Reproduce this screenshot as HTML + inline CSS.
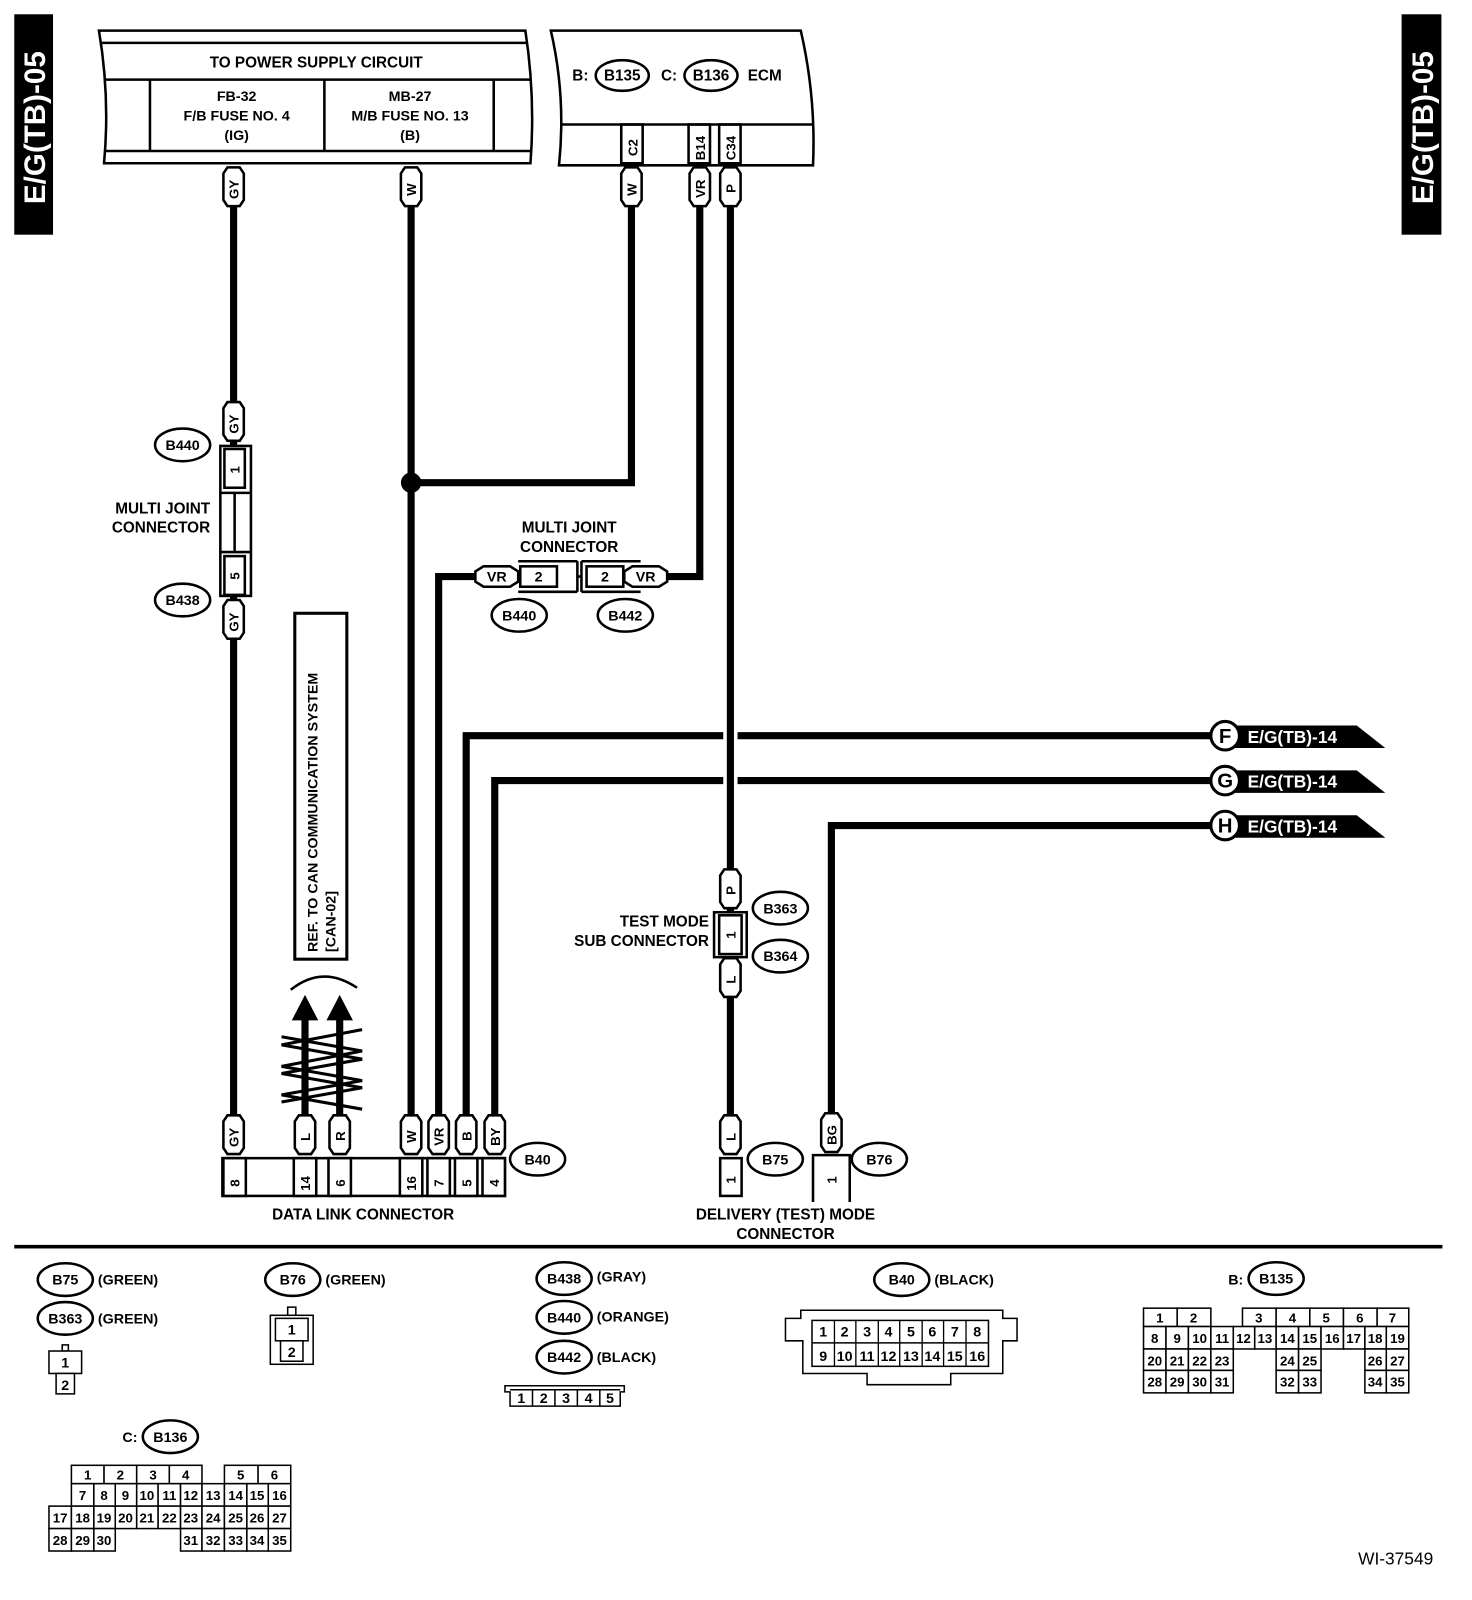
<!DOCTYPE html>
<html><head><meta charset="utf-8"><style>
html,body{margin:0;padding:0;background:#fff}
svg{display:block}
text{font-family:"Liberation Sans",sans-serif;font-weight:bold;fill:#000}
</style></head><body>
<svg width="1472" height="1600" viewBox="0 0 1443 1568" preserveAspectRatio="none" xmlns="http://www.w3.org/2000/svg">
<defs>
<path id="pill" d="M-10,-13 L-6,-19 L6,-19 L10,-13 L10,13 L6,19 L-6,19 L-10,13 Z" fill="#fff" stroke="#000" stroke-width="2.5"/>
</defs>
<rect x="14" y="14" width="38" height="216" fill="#000"/>
<text transform="translate(44,200) rotate(-90)" font-size="29" style="fill:#fff">E/G(TB)-05</text>
<rect x="1374" y="14" width="39" height="216" fill="#000"/>
<text transform="translate(1405,200) rotate(-90)" font-size="29" style="fill:#fff">E/G(TB)-05</text>

<g fill="none" stroke="#000" stroke-width="2.5">
<path d="M97,30 L515,30 Q525,95 520,160 L102,160 Q108,95 97,30 Z" fill="#fff"/>
<line x1="99" y1="42" x2="517" y2="42"/>
<line x1="103" y1="78" x2="520" y2="78"/>
<line x1="103" y1="148" x2="521" y2="148"/>
<line x1="147" y1="78" x2="147" y2="148"/>
<line x1="318" y1="78" x2="318" y2="148"/>
<line x1="484" y1="78" x2="484" y2="148"/>
<path d="M545,30 L785,30 Q800,95 797,162 L548,162 Q555,95 540,30 Z" fill="#fff"/>
<line x1="550" y1="122" x2="797" y2="122"/>
<rect x="609" y="122" width="21" height="38"/>
<rect x="675" y="122" width="21" height="38"/>
<rect x="705" y="122" width="21" height="38"/>
</g>
<text x="310" y="66" font-size="15" text-anchor="middle">TO POWER SUPPLY CIRCUIT</text>
<g font-size="14" text-anchor="middle">
<text x="232" y="99">FB-32</text><text x="232" y="118">F/B FUSE NO. 4</text><text x="232" y="137">(IG)</text>
<text x="402" y="99">MB-27</text><text x="402" y="118">M/B FUSE NO. 13</text><text x="402" y="137">(B)</text>
</g>
<text x="561" y="79" font-size="15">B:</text>
<ellipse cx="610" cy="74" rx="26" ry="15" fill="none" stroke="#000" stroke-width="2.5"/>
<text x="610" y="79" font-size="15" text-anchor="middle">B135</text>
<text x="648" y="79" font-size="15">C:</text>
<ellipse cx="697" cy="74" rx="26" ry="15" fill="none" stroke="#000" stroke-width="2.5"/>
<text x="697" y="79" font-size="15" text-anchor="middle">B136</text>
<text x="733" y="79" font-size="15">ECM</text>
<g font-size="13">
<text transform="translate(625,153) rotate(-90)">C2</text>
<text transform="translate(691,157) rotate(-90)">B14</text>
<text transform="translate(721,157) rotate(-90)">C34</text>
</g>

<g fill="none" stroke="#000" stroke-width="7">
<line x1="229" y1="180" x2="229" y2="1100"/>
<line x1="403" y1="180" x2="403" y2="1100"/>
<polyline points="403,473 619,473 619,180"/>
<polyline points="686,180 686,565 640,565"/>
<polyline points="480,565 430,565 430,1100"/>
<polyline points="457,1100 457,721 1190,721"/>
<polyline points="485,1100 485,765 1190,765"/>
<polyline points="815,1100 815,809 1190,809"/>
</g>
<line x1="716" y1="700" x2="716" y2="790" stroke="#fff" stroke-width="14"/>
<line x1="716" y1="180" x2="716" y2="1100" stroke="#000" stroke-width="7"/>
<circle cx="403" cy="473" r="10" fill="#000"/>

<use href="#pill" x="229" y="183"/><text transform="translate(234,195) rotate(-90)" font-size="13">GY</text>
<use href="#pill" x="403" y="183"/><text transform="translate(408,192) rotate(-90)" font-size="13">W</text>
<use href="#pill" x="619" y="183"/><text transform="translate(624,192) rotate(-90)" font-size="13">W</text>
<use href="#pill" x="686" y="183"/><text transform="translate(691,194) rotate(-90)" font-size="13">VR</text>
<use href="#pill" x="716" y="183"/><text transform="translate(721,189) rotate(-90)" font-size="13">P</text>

<g fill="#fff" stroke="#000" stroke-width="2.5">
<rect x="216" y="437" width="30" height="147"/>
<rect x="220" y="440" width="20" height="38"/>
<rect x="220" y="545" width="20" height="38"/>
<line x1="230" y1="483" x2="230" y2="541"/>
<line x1="216" y1="483" x2="246" y2="483"/>
<line x1="216" y1="541" x2="246" y2="541"/>
</g>
<use href="#pill" x="229" y="413"/><text transform="translate(234,425) rotate(-90)" font-size="13">GY</text>
<use href="#pill" x="229" y="607"/><text transform="translate(234,619) rotate(-90)" font-size="13">GY</text>
<text transform="translate(235,464) rotate(-90)" font-size="13">1</text>
<text transform="translate(235,568) rotate(-90)" font-size="13">5</text>
<g fill="none" stroke="#000" stroke-width="2.5">
<ellipse cx="179" cy="436" rx="27" ry="16"/>
<ellipse cx="179" cy="588" rx="27" ry="16"/>
</g>
<text x="179" y="441" font-size="14" text-anchor="middle">B440</text>
<text x="179" y="593" font-size="14" text-anchor="middle">B438</text>
<text x="206" y="503" font-size="15" text-anchor="end">MULTI JOINT</text>
<text x="206" y="522" font-size="15" text-anchor="end">CONNECTOR</text>

<g fill="#fff" stroke="#000" stroke-width="2.5">
<path d="M474,555 L500,555 L508,560 L508,570 L500,575 L474,575 L466,570 L466,560 Z"/>
<path d="M620,555 L646,555 L654,560 L654,570 L646,575 L620,575 L612,570 L612,560 Z"/>
<rect x="510" y="555" width="36" height="20"/>
<rect x="575" y="555" width="36" height="20"/>
<line x1="508" y1="550" x2="566" y2="550"/><line x1="508" y1="580" x2="566" y2="580"/>
<line x1="566" y1="550" x2="566" y2="580"/>
<line x1="570" y1="550" x2="628" y2="550"/><line x1="570" y1="580" x2="628" y2="580"/>
<line x1="570" y1="550" x2="570" y2="580"/>
<line x1="566" y1="565" x2="570" y2="565"/>
</g>
<g font-size="14" text-anchor="middle">
<text x="487" y="570">VR</text><text x="633" y="570">VR</text>
<text x="528" y="570">2</text><text x="593" y="570">2</text>
<text x="558" y="522" font-size="15">MULTI JOINT</text>
<text x="558" y="541" font-size="15">CONNECTOR</text>
</g>
<g fill="none" stroke="#000" stroke-width="2.5">
<ellipse cx="509" cy="603" rx="27" ry="16"/>
<ellipse cx="613" cy="603" rx="27" ry="16"/>
</g>
<text x="509" y="608" font-size="14" text-anchor="middle">B440</text>
<text x="613" y="608" font-size="14" text-anchor="middle">B442</text>

<rect x="289" y="601" width="51" height="339" fill="none" stroke="#000" stroke-width="3"/>
<text transform="translate(311,933) rotate(-90)" font-size="14">REF. TO CAN COMMUNICATION SYSTEM</text>
<text transform="translate(329,933) rotate(-90)" font-size="14">[CAN-02]</text>

<path d="M285,970 Q316,945 350,968" fill="none" stroke="#000" stroke-width="2.5"/>
<g stroke="#000" stroke-width="7"><line x1="299" y1="995" x2="299" y2="1100"/><line x1="333" y1="995" x2="333" y2="1100"/></g>
<polygon points="299,975 286,1000 312,1000" fill="#000"/>
<polygon points="333,975 320,1000 346,1000" fill="#000"/>
<polyline points="355,1009 276,1024 355,1038 276,1052 355,1066 276,1080" fill="none" stroke="#000" stroke-width="3"/>
<polyline points="276,1016 355,1030 276,1045 355,1059 276,1073 355,1087" fill="none" stroke="#000" stroke-width="3"/>

<g>
<polygon points="1205,711 1330,711 1358,733 1205,733" fill="#000"/>
<polygon points="1205,755 1330,755 1358,777 1205,777" fill="#000"/>
<polygon points="1205,799 1330,799 1358,821 1205,821" fill="#000"/>
<g fill="#fff" stroke="#000" stroke-width="3">
<circle cx="1201" cy="721" r="14"/><circle cx="1201" cy="765" r="14"/><circle cx="1201" cy="809" r="14"/>
</g>
<g font-size="20" text-anchor="middle"><text x="1201" y="728">F</text><text x="1201" y="772">G</text><text x="1201" y="816">H</text></g>
<g font-size="17"><text x="1223" y="728" style="fill:#fff">E/G(TB)-14</text><text x="1223" y="772" style="fill:#fff">E/G(TB)-14</text><text x="1223" y="816" style="fill:#fff">E/G(TB)-14</text></g>
</g>

<g fill="#fff" stroke="#000" stroke-width="2.5">
<rect x="700" y="894" width="32" height="44"/>
<rect x="705" y="897" width="22" height="38"/>
</g>
<use href="#pill" x="716" y="871"/><text transform="translate(721,877) rotate(-90)" font-size="13">P</text>
<use href="#pill" x="716" y="958"/><text transform="translate(721,964) rotate(-90)" font-size="13">L</text>
<text transform="translate(721,920) rotate(-90)" font-size="13">1</text>
<g fill="none" stroke="#000" stroke-width="2.5">
<ellipse cx="765" cy="890" rx="27" ry="16"/><ellipse cx="765" cy="937" rx="27" ry="16"/>
</g>
<text x="765" y="895" font-size="14" text-anchor="middle">B363</text>
<text x="765" y="942" font-size="14" text-anchor="middle">B364</text>
<text x="695" y="908" font-size="15" text-anchor="end">TEST MODE</text>
<text x="695" y="927" font-size="15" text-anchor="end">SUB CONNECTOR</text>

<g fill="#fff" stroke="#000" stroke-width="2.5">
<rect x="218" y="1135" width="277" height="37"/>
<rect x="219" y="1135" width="22" height="37"/>
<rect x="288" y="1135" width="22" height="37"/>
<rect x="322" y="1135" width="22" height="37"/>
<rect x="392" y="1135" width="22" height="37"/>
<rect x="419" y="1135" width="22" height="37"/>
<rect x="446" y="1135" width="22" height="37"/>
<rect x="473" y="1135" width="22" height="37"/>
</g>
<g font-size="13">
<text transform="translate(235,1163) rotate(-90)">8</text>
<text transform="translate(304,1167) rotate(-90)">14</text>
<text transform="translate(338,1163) rotate(-90)">6</text>
<text transform="translate(408,1167) rotate(-90)">16</text>
<text transform="translate(435,1163) rotate(-90)">7</text>
<text transform="translate(462,1163) rotate(-90)">5</text>
<text transform="translate(489,1163) rotate(-90)">4</text>
</g>
<use href="#pill" x="229" y="1112"/><text transform="translate(234,1124) rotate(-90)" font-size="13">GY</text>
<use href="#pill" x="299" y="1112"/><text transform="translate(304,1118) rotate(-90)" font-size="13">L</text>
<use href="#pill" x="333" y="1112"/><text transform="translate(338,1118) rotate(-90)" font-size="13">R</text>
<use href="#pill" x="403" y="1112"/><text transform="translate(408,1120) rotate(-90)" font-size="13">W</text>
<use href="#pill" x="430" y="1112"/><text transform="translate(435,1123) rotate(-90)" font-size="13">VR</text>
<use href="#pill" x="457" y="1112"/><text transform="translate(462,1118) rotate(-90)" font-size="13">B</text>
<use href="#pill" x="485" y="1112"/><text transform="translate(490,1123) rotate(-90)" font-size="13">BY</text>
<ellipse cx="527" cy="1136" rx="27" ry="16" fill="none" stroke="#000" stroke-width="2.5"/>
<text x="527" y="1141" font-size="14" text-anchor="middle">B40</text>
<text x="356" y="1195" font-size="15" text-anchor="middle">DATA LINK CONNECTOR</text>

<rect x="706" y="1135" width="21" height="37" fill="#fff" stroke="#000" stroke-width="2.5"/>
<text transform="translate(721,1160) rotate(-90)" font-size="13">1</text>
<use href="#pill" x="716" y="1112"/><text transform="translate(721,1118) rotate(-90)" font-size="13">L</text>
<path d="M797,1178 L797,1132 L833,1132 L833,1178" fill="#fff" stroke="#000" stroke-width="2.5"/>
<text transform="translate(820,1160) rotate(-90)" font-size="13">1</text>
<use href="#pill" x="815" y="1110"/><text transform="translate(820,1122) rotate(-90)" font-size="13">BG</text>
<g fill="none" stroke="#000" stroke-width="2.5">
<ellipse cx="760" cy="1136" rx="27" ry="16"/><ellipse cx="862" cy="1136" rx="27" ry="16"/>
</g>
<text x="760" y="1141" font-size="14" text-anchor="middle">B75</text>
<text x="862" y="1141" font-size="14" text-anchor="middle">B76</text>
<text x="770" y="1195" font-size="15" text-anchor="middle">DELIVERY (TEST) MODE</text>
<text x="770" y="1214" font-size="15" text-anchor="middle">CONNECTOR</text>

<rect x="14" y="1220" width="1400" height="3.5" fill="#000"/>

<g fill="none" stroke="#000" stroke-width="2.5">
<ellipse cx="64" cy="1254" rx="27" ry="16"/><ellipse cx="64" cy="1292" rx="27" ry="16"/>
<ellipse cx="287" cy="1254" rx="27" ry="16"/>
<ellipse cx="553" cy="1253" rx="27" ry="16"/><ellipse cx="553" cy="1291" rx="27" ry="16"/><ellipse cx="553" cy="1330" rx="27" ry="16"/>
<ellipse cx="884" cy="1254" rx="27" ry="16"/>
<ellipse cx="1251" cy="1253" rx="27" ry="16"/>
<ellipse cx="167" cy="1408" rx="27" ry="16"/>
</g>
<g font-size="14">
<text x="64" y="1259" text-anchor="middle">B75</text><text x="96" y="1259">(GREEN)</text>
<text x="64" y="1297" text-anchor="middle">B363</text><text x="96" y="1297">(GREEN)</text>
<text x="287" y="1259" text-anchor="middle">B76</text><text x="319" y="1259">(GREEN)</text>
<text x="553" y="1258" text-anchor="middle">B438</text><text x="585" y="1256">(GRAY)</text>
<text x="553" y="1296" text-anchor="middle">B440</text><text x="585" y="1295">(ORANGE)</text>
<text x="553" y="1335" text-anchor="middle">B442</text><text x="585" y="1335">(BLACK)</text>
<text x="884" y="1259" text-anchor="middle">B40</text><text x="916" y="1259">(BLACK)</text>
<text x="1204" y="1259">B:</text><text x="1251" y="1258" text-anchor="middle">B135</text>
<text x="120" y="1413">C:</text><text x="167" y="1413" text-anchor="middle">B136</text>
</g>
<g fill="#fff" stroke="#000" stroke-width="1.5">
<rect x="61" y="1318" width="6" height="6"/><rect x="48" y="1324" width="32" height="22"/><rect x="55" y="1346" width="18" height="20"/>
<rect x="282" y="1281" width="8" height="8"/><rect x="265" y="1289" width="42" height="48"/><rect x="270" y="1292" width="32" height="22"/><rect x="275" y="1314" width="22" height="20"/>
<path d="M495,1358 L612,1358 L612,1364 L608,1364 L608,1378 L500,1378 L500,1364 L495,1364 Z"/>
<line x1="500" y1="1362" x2="608" y2="1362"/>
<path d="M785,1284 L983,1284 L983,1292 L997,1292 L997,1314 L983,1314 L983,1346 L932,1346 L932,1357 L850,1357 L850,1346 L787,1346 L787,1314 L770,1314 L770,1292 L785,1292 Z"/>
<rect x="796" y="1294" width="173" height="45"/>
<line x1="796" y1="1316" x2="969" y2="1316"/>
</g>
<g stroke="#000" stroke-width="1.5">
<line x1="522" y1="1362" x2="522" y2="1378"/><line x1="544" y1="1362" x2="544" y2="1378"/><line x1="566" y1="1362" x2="566" y2="1378"/><line x1="588" y1="1362" x2="588" y2="1378"/>
</g>
<g font-size="14" text-anchor="middle" style="font-weight:normal">
<text x="64" y="1340">1</text><text x="64" y="1362">2</text>
<text x="286" y="1308">1</text><text x="286" y="1330">2</text>
<text x="511" y="1375">1</text><text x="533" y="1375">2</text><text x="555" y="1375">3</text><text x="577" y="1375">4</text><text x="598" y="1375">5</text>
</g>
<g stroke="#000" stroke-width="1.3">
<line x1="818" y1="1294" x2="818" y2="1339"/><line x1="839" y1="1294" x2="839" y2="1339"/><line x1="861" y1="1294" x2="861" y2="1339"/><line x1="882" y1="1294" x2="882" y2="1339"/><line x1="904" y1="1294" x2="904" y2="1339"/><line x1="925" y1="1294" x2="925" y2="1339"/><line x1="947" y1="1294" x2="947" y2="1339"/>
</g>
<g font-size="14" text-anchor="middle" style="font-weight:normal">
<text x="807" y="1310">1</text><text x="828" y="1310">2</text><text x="850" y="1310">3</text><text x="871" y="1310">4</text><text x="893" y="1310">5</text><text x="914" y="1310">6</text><text x="936" y="1310">7</text><text x="958" y="1310">8</text>
<text x="807" y="1334">9</text><text x="828" y="1334">10</text><text x="850" y="1334">11</text><text x="871" y="1334">12</text><text x="893" y="1334">13</text><text x="914" y="1334">14</text><text x="936" y="1334">15</text><text x="958" y="1334">16</text>
</g>

<g fill="#fff" stroke="#000" stroke-width="1.5">
<rect x="1121" y="1282" width="33" height="18"/><rect x="1154" y="1282" width="33" height="18"/>
<rect x="1218" y="1282" width="33" height="18"/><rect x="1251" y="1282" width="33" height="18"/><rect x="1284" y="1282" width="33" height="18"/><rect x="1317" y="1282" width="33" height="18"/><rect x="1350" y="1282" width="31" height="18"/>
<rect x="1121" y="1300" width="22" height="22"/><rect x="1143" y="1300" width="22" height="22"/><rect x="1165" y="1300" width="22" height="22"/><rect x="1187" y="1300" width="22" height="22"/><rect x="1209" y="1300" width="21" height="22"/><rect x="1230" y="1300" width="21" height="22"/><rect x="1251" y="1300" width="22" height="22"/><rect x="1273" y="1300" width="22" height="22"/><rect x="1295" y="1300" width="22" height="22"/><rect x="1317" y="1300" width="21" height="22"/><rect x="1338" y="1300" width="21" height="22"/><rect x="1359" y="1300" width="22" height="22"/>
<rect x="1121" y="1322" width="22" height="21"/><rect x="1143" y="1322" width="22" height="21"/><rect x="1165" y="1322" width="22" height="21"/><rect x="1187" y="1322" width="22" height="21"/>
<rect x="1251" y="1322" width="22" height="21"/><rect x="1273" y="1322" width="22" height="21"/>
<rect x="1338" y="1322" width="21" height="21"/><rect x="1359" y="1322" width="22" height="21"/>
<rect x="1121" y="1343" width="22" height="22"/><rect x="1143" y="1343" width="22" height="22"/><rect x="1165" y="1343" width="22" height="22"/><rect x="1187" y="1343" width="22" height="22"/>
<rect x="1251" y="1343" width="22" height="22"/><rect x="1273" y="1343" width="22" height="22"/>
<rect x="1338" y="1343" width="21" height="22"/><rect x="1359" y="1343" width="22" height="22"/>
</g>
<g font-size="13" text-anchor="middle" style="font-weight:normal">
<text x="1137" y="1296">1</text><text x="1170" y="1296">2</text><text x="1234" y="1296">3</text><text x="1267" y="1296">4</text><text x="1300" y="1296">5</text><text x="1333" y="1296">6</text><text x="1365" y="1296">7</text>
<text x="1132" y="1316">8</text><text x="1154" y="1316">9</text><text x="1176" y="1316">10</text><text x="1198" y="1316">11</text><text x="1219" y="1316">12</text><text x="1240" y="1316">13</text><text x="1262" y="1316">14</text><text x="1284" y="1316">15</text><text x="1306" y="1316">16</text><text x="1327" y="1316">17</text><text x="1348" y="1316">18</text><text x="1370" y="1316">19</text>
<text x="1132" y="1338">20</text><text x="1154" y="1338">21</text><text x="1176" y="1338">22</text><text x="1198" y="1338">23</text><text x="1262" y="1338">24</text><text x="1284" y="1338">25</text><text x="1348" y="1338">26</text><text x="1370" y="1338">27</text>
<text x="1132" y="1359">28</text><text x="1154" y="1359">29</text><text x="1176" y="1359">30</text><text x="1198" y="1359">31</text><text x="1262" y="1359">32</text><text x="1284" y="1359">33</text><text x="1348" y="1359">34</text><text x="1370" y="1359">35</text>
</g>

<g fill="#fff" stroke="#000" stroke-width="1.5">
<rect x="70" y="1436" width="32" height="18"/><rect x="102" y="1436" width="32" height="18"/><rect x="134" y="1436" width="32" height="18"/><rect x="166" y="1436" width="32" height="18"/>
<rect x="220" y="1436" width="33" height="18"/><rect x="253" y="1436" width="32" height="18"/>
<rect x="70" y="1454" width="22" height="22"/><rect x="92" y="1454" width="21" height="22"/><rect x="113" y="1454" width="21" height="22"/><rect x="134" y="1454" width="21" height="22"/><rect x="155" y="1454" width="22" height="22"/><rect x="177" y="1454" width="21" height="22"/><rect x="198" y="1454" width="22" height="22"/><rect x="220" y="1454" width="22" height="22"/><rect x="242" y="1454" width="21" height="22"/><rect x="263" y="1454" width="22" height="22"/>
<rect x="48" y="1476" width="22" height="22"/><rect x="70" y="1476" width="22" height="22"/><rect x="92" y="1476" width="21" height="22"/><rect x="113" y="1476" width="21" height="22"/><rect x="134" y="1476" width="21" height="22"/><rect x="155" y="1476" width="22" height="22"/><rect x="177" y="1476" width="21" height="22"/><rect x="198" y="1476" width="22" height="22"/><rect x="220" y="1476" width="22" height="22"/><rect x="242" y="1476" width="21" height="22"/><rect x="263" y="1476" width="22" height="22"/>
<rect x="48" y="1498" width="22" height="22"/><rect x="70" y="1498" width="22" height="22"/><rect x="92" y="1498" width="21" height="22"/>
<rect x="177" y="1498" width="21" height="22"/><rect x="198" y="1498" width="22" height="22"/><rect x="220" y="1498" width="22" height="22"/><rect x="242" y="1498" width="21" height="22"/><rect x="263" y="1498" width="22" height="22"/>
</g>
<g font-size="13" text-anchor="middle" style="font-weight:normal">
<text x="86" y="1450">1</text><text x="118" y="1450">2</text><text x="150" y="1450">3</text><text x="182" y="1450">4</text><text x="236" y="1450">5</text><text x="269" y="1450">6</text>
<text x="81" y="1470">7</text><text x="102" y="1470">8</text><text x="123" y="1470">9</text><text x="144" y="1470">10</text><text x="166" y="1470">11</text><text x="187" y="1470">12</text><text x="209" y="1470">13</text><text x="231" y="1470">14</text><text x="252" y="1470">15</text><text x="274" y="1470">16</text>
<text x="59" y="1492">17</text><text x="81" y="1492">18</text><text x="102" y="1492">19</text><text x="123" y="1492">20</text><text x="144" y="1492">21</text><text x="166" y="1492">22</text><text x="187" y="1492">23</text><text x="209" y="1492">24</text><text x="231" y="1492">25</text><text x="252" y="1492">26</text><text x="274" y="1492">27</text>
<text x="59" y="1514">28</text><text x="81" y="1514">29</text><text x="102" y="1514">30</text><text x="187" y="1514">31</text><text x="209" y="1514">32</text><text x="231" y="1514">33</text><text x="252" y="1514">34</text><text x="274" y="1514">35</text>
</g>

<text x="1405" y="1533" font-size="17" text-anchor="end" style="font-weight:normal">WI-37549</text>
</svg>
</body></html>
